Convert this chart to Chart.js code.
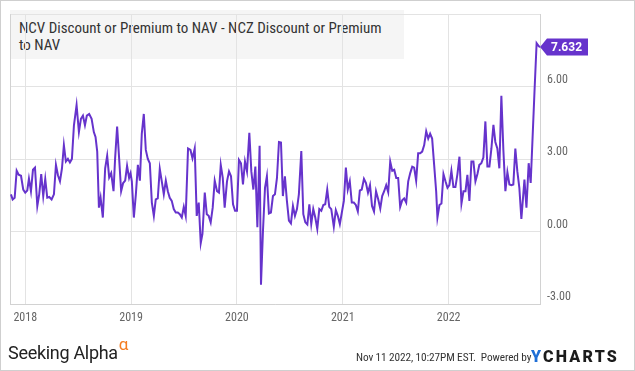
<!DOCTYPE html>
<html>
<head>
<meta charset="utf-8">
<script src="https://cdn.jsdelivr.net/npm/chart.js@4"></script>
<style>
  html, body { margin: 0; padding: 0; background: #fff; }
  #wrap { position: relative; width: 635px; height: 371px; overflow: hidden; background: #fff; }
  #frame { position: absolute; left: 0; top: 0; width: 633px; height: 369px; border: 1px solid #cfcfcf; z-index: 3; pointer-events: none; }
  #titlebox { position: absolute; left: 10px; top: 10px; width: 385px; height: 39px; padding: 10px 0 0 9px; background: #f5f5f5; z-index: 0;
    font-family: "Roboto Condensed", "Liberation Sans Narrow", "Arial Narrow", "DejaVu Sans Condensed", Roboto, sans-serif; font-size: 15px; line-height: 17px; color: #333; }
  canvas { position: absolute; left: 0; top: 0; z-index: 1; }
  #sa { position: absolute; left: 8px; top: 342px; z-index: 2; font-family: Roboto, "Open Sans", sans-serif; font-size: 18px; line-height: 22px; color: #222; letter-spacing: -0.3px; }
  #sa sup { color: #f47c20; font-size: 17px; position: relative; top: -4px; vertical-align: top; line-height: 12px; margin-left: 1px; }
  #stamp { position: absolute; left: 356px; top: 350px; z-index: 2; font-family: "Roboto Condensed", "Liberation Sans Narrow", "Arial Narrow", Roboto, sans-serif; font-size: 11.3px; line-height: 16px; color: #333; white-space: nowrap; letter-spacing: -0.1px; }
  #yc { position: absolute; left: 531px; top: 347px; z-index: 2; font-family: Roboto, "Liberation Sans", sans-serif; font-weight: 900; font-size: 16px; line-height: 20px; letter-spacing: 2.2px; color: #1b1b1b; white-space: nowrap; }
  #yc span { color: #1f6fd6; }
</style>
</head>
<body>
<div id="wrap">
  <div id="titlebox">NCV Discount or Premium to NAV - NCZ Discount or Premium<br>to NAV</div>
  <canvas id="c" width="635" height="371"></canvas>
  <div id="sa">Seeking Alpha<sup>α</sup></div>
  <div id="stamp">Nov 11 2022, 10:27PM EST.&nbsp; Powered by</div>
  <div id="yc"><span>Y</span>CHARTS</div>
  <div id="frame"></div>
</div>
<script>
// decimal-year dates of each weekly observation
const dates = [
2017.865,2017.881,2017.900,2017.919,2017.938,2017.960,2017.981,2018.000,2018.019,2018.035,2018.054,2018.073,2018.092,2018.114,2018.132,2018.151,2018.170,2018.189,2018.208,2018.227,2018.249,2018.271,2018.290,2018.309,2018.328,2018.347,2018.365,2018.384,2018.403,2018.422,2018.441,2018.460,2018.485,2018.507,2018.526,2018.545,2018.564,2018.582,2018.604,2018.627,2018.648,2018.664,2018.680,2018.696,2018.712,2018.733,2018.755,2018.774,2018.793,2018.812,2018.834,2018.849,2018.868,2018.887,2018.906,2018.925,2018.944,2018.962,2018.981,2018.995,
2019.007,2019.026,2019.045,2019.064,2019.083,2019.101,2019.120,2019.139,2019.158,2019.177,2019.196,2019.215,2019.233,2019.252,2019.271,2019.290,2019.309,2019.328,2019.347,2019.365,2019.384,2019.403,2019.422,2019.441,2019.460,2019.479,2019.498,2019.516,2019.538,2019.561,2019.580,2019.601,2019.620,2019.639,2019.658,2019.674,2019.696,2019.715,2019.733,2019.752,2019.771,2019.790,2019.812,2019.830,
2019.847,2019.866,2019.884,2019.906,2019.925,2019.944,2019.963,2019.982,2020.000,2020.019,2020.038,2020.057,2020.076,2020.095,2020.117,2020.136,2020.155,2020.174,2020.193,2020.214,2020.227,2020.246,2020.265,2020.283,2020.302,2020.321,2020.340,2020.359,2020.378,2020.397,2020.416,2020.434,2020.453,2020.472,2020.491,2020.510,2020.529,2020.548,2020.567,2020.585,2020.608,2020.627,2020.646,2020.665,2020.684,2020.702,2020.721,2020.740,2020.759,2020.778,2020.797,2020.816,2020.834,2020.853,2020.872,2020.891,2020.915,2020.934,2020.953,2020.972,2020.991,
2021.010,2021.029,2021.047,2021.066,2021.085,2021.104,2021.123,2021.142,2021.161,2021.179,2021.200,2021.219,2021.238,2021.257,2021.276,2021.295,2021.314,2021.335,2021.354,2021.372,2021.391,2021.410,2021.429,2021.448,2021.467,2021.486,2021.505,2021.523,2021.542,2021.561,2021.580,2021.599,2021.618,2021.637,2021.656,2021.674,2021.693,2021.712,2021.731,2021.750,2021.769,2021.788,2021.807,2021.825,2021.844,2021.863,2021.882,2021.894,2021.913,2021.932,2021.951,2021.970,2021.989,
2022.007,2022.026,2022.045,2022.064,2022.083,2022.102,2022.121,2022.140,2022.159,2022.177,2022.196,2022.215,2022.234,2022.253,2022.272,2022.290,2022.309,2022.328,2022.347,2022.366,2022.385,2022.404,2022.423,2022.441,2022.460,2022.479,2022.498,2022.517,2022.536,2022.555,2022.574,2022.593,2022.611,2022.630,2022.649,2022.668,2022.687,2022.716,2022.735,2022.756,2022.775,2022.793,2022.812,2022.831,2022.847,2022.863
];
// NCV premium minus NCZ premium (percentage points)
const spread = [
1.54,1.33,1.40,2.52,2.35,2.31,1.74,1.61,1.70,2.19,1.67,2.56,2.65,1.06,1.54,2.38,1.47,2.18,1.40,1.43,1.33,1.54,2.76,2.33,2.08,2.62,3.58,2.90,3.01,2.86,3.01,4.40,5.24,4.12,4.67,4.80,4.40,4.80,4.87,4.67,4.12,3.92,3.31,0.99,1.40,0.58,2.62,3.14,2.24,2.42,1.67,3.03,4.35,3.03,1.67,2.01,2.11,2.72,2.22,2.42,
2.08,0.58,1.54,2.76,2.11,4.05,4.87,3.38,3.01,2.83,1.20,0.65,1.33,1.37,2.60,2.08,1.54,2.11,1.67,1.40,1.27,0.93,0.79,0.79,0.72,0.58,1.02,0.65,3.44,3.38,3.03,3.44,0.65,1.20,-0.48,-0.10,1.61,0.72,0.65,0.38,0.99,2.11,1.67,1.61,
2.76,2.22,0.99,2.08,2.49,2.29,1.13,0.86,0.86,2.97,2.83,1.95,2.90,2.49,4.09,2.49,1.74,2.69,0.18,3.55,-2.20,0.04,1.81,2.29,0.75,0.79,1.47,1.54,2.22,3.71,3.69,1.47,2.29,1.27,0.45,0.34,1.06,0.65,0.93,1.54,3.33,0.72,0.38,0.29,1.13,0.31,0.93,0.58,0.11,0.93,0.86,1.10,1.13,1.74,1.02,0.93,0.20,0.89,0.65,0.31,0.79,
1.27,2.65,1.74,2.08,1.20,1.20,1.10,0.83,1.70,1.74,2.18,2.01,1.61,1.92,1.06,0.83,1.67,1.33,0.95,1.47,1.67,1.92,1.63,2.90,2.52,2.56,2.22,2.22,1.02,1.29,1.37,1.20,2.08,2.42,2.69,2.65,2.11,3.24,3.24,3.31,3.58,4.15,3.85,4.05,3.85,2.76,1.67,0.58,1.10,1.16,2.38,2.08,1.81,
1.92,2.52,1.84,1.84,2.38,3.10,1.16,1.67,1.67,2.35,1.27,2.90,2.90,2.08,2.38,2.76,2.83,3.06,4.56,2.69,2.69,3.44,4.42,3.71,3.44,2.62,5.62,3.38,1.67,2.46,1.95,1.92,1.95,3.44,2.49,1.81,0.52,2.15,0.99,2.83,2.01,3.9,5.9,7.8,7.70,7.632
];
const yearTicks = [2018, 2019, 2020, 2021, 2022];
const valueTicks = [-3, 0, 3, 6, 9];
const xRange = [2017.856, 2022.863];

const LINE = '#6633cc';
const NARROW = '"Roboto Condensed", "Liberation Sans Narrow", "Arial Narrow", "DejaVu Sans Condensed", Roboto, sans-serif';
const n = Math.min(dates.length, spread.length);
const points = [];
for (let i = 0; i < n; i++) points.push({ x: dates[i], y: spread[i] });

const framePlugin = {
  id: 'frame',
  beforeDatasetsDraw(chart) {
    const { ctx, chartArea: a } = chart;
    ctx.save();
    ctx.strokeStyle = '#d2d2d2';
    ctx.lineWidth = 1;
    ctx.beginPath();
    ctx.moveTo(Math.round(a.left) + 0.5, a.top);
    ctx.lineTo(Math.round(a.left) + 0.5, a.bottom);
    ctx.stroke();
    ctx.restore();
  }
};

const lastTag = {
  id: 'lastTag',
  afterDatasetsDraw(chart) {
    const { ctx, chartArea: a } = chart;
    const ys = chart.scales.y;
    const last = spread[n - 1];
    const py = Math.round(ys.getPixelForValue(last));
    const px = a.right;
    ctx.save();
    ctx.fillStyle = LINE;
    ctx.beginPath();
    ctx.moveTo(px, py);
    ctx.lineTo(px + 7, py - 8.5);
    ctx.lineTo(px + 48, py - 8.5);
    ctx.lineTo(px + 48, py + 8.5);
    ctx.lineTo(px + 7, py + 8.5);
    ctx.closePath();
    ctx.fill();
    ctx.fillStyle = '#fff';
    ctx.font = 'bold 12px Roboto, sans-serif';
    ctx.textBaseline = 'middle';
    ctx.textAlign = 'left';
    ctx.fillText(last.toFixed(3), px + 11, py + 1);
    ctx.restore();
  }
};

new Chart(document.getElementById('c'), {
  type: 'line',
  data: {
    datasets: [{
      data: points,
      borderColor: LINE,
      borderWidth: 2,
      pointRadius: 0,
      tension: 0,
      fill: false
    }]
  },
  options: {
    responsive: false,
    animation: false,
    devicePixelRatio: 1,
    layout: { padding: { left: 10, top: 10, right: 0, bottom: 0 } },
    plugins: { legend: { display: false }, tooltip: { enabled: false }, title: { display: false } },
    scales: {
      x: {
        type: 'linear',
        position: 'bottom',
        min: xRange[0],
        max: xRange[1],
        afterBuildTicks(s) { s.ticks = yearTicks.map(v => ({ value: v })); },
        afterFit(s) { s.height = 67; },
        ticks: {
          callback: v => String(v),
          color: '#666',
          font: { family: NARROW, size: 12 },
          padding: 7,
          maxRotation: 0,
          autoSkip: false
        },
        grid: { color: '#e3e3e3', drawTicks: false },
        border: { display: true, color: '#d2d2d2' }
      },
      y: {
        position: 'right',
        min: valueTicks[0],
        max: valueTicks[valueTicks.length - 1],
        afterBuildTicks(s) { s.ticks = valueTicks.map(v => ({ value: v })); },
        afterFit(s) { s.width = 95; },
        ticks: {
          callback: v => (v === valueTicks[valueTicks.length - 1] ? '' : v.toFixed(2)),
          color: '#666',
          font: { family: NARROW, size: 12 },
          padding: 7,
          labelOffset: -7
        },
        grid: { color: '#e3e3e3', drawTicks: false },
        border: { display: true, color: '#d2d2d2' }
      }
    }
  },
  plugins: [framePlugin, lastTag]
});
</script>
</body>
</html>
